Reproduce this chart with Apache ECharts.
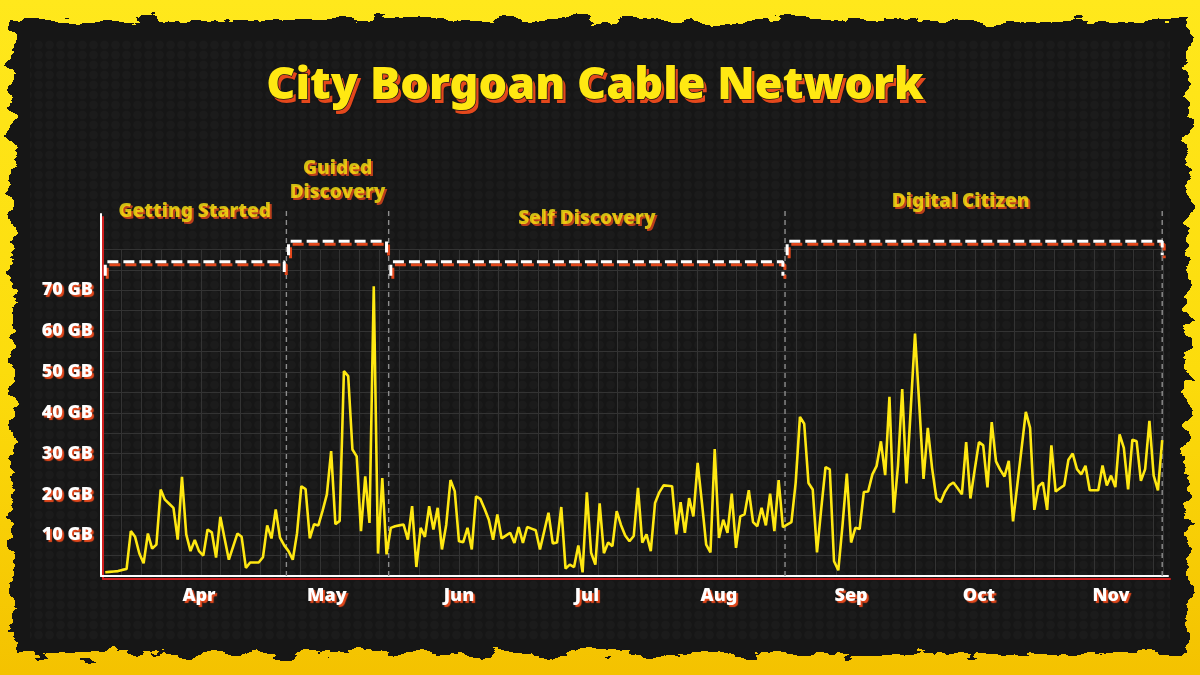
<!DOCTYPE html>
<html>
<head>
<meta charset="utf-8">
<script src="https://cdn.jsdelivr.net/npm/echarts@6/dist/echarts.min.js"></script>
<style>
html,body{margin:0;padding:0;width:1200px;height:675px;overflow:hidden;
  background:linear-gradient(180deg,#ffe81c 0%,#fcdc0c 55%,#f4c200 100%);}
#bg{position:absolute;left:0;top:0;}
#chart{position:absolute;left:0;top:0;width:1200px;height:675px;}
</style>
</head>
<body>
<svg id="bg" width="1200" height="675">
  <defs>
    <filter id="torn" x="-5%" y="-8%" width="110%" height="116%">
      <feTurbulence type="fractalNoise" baseFrequency="0.03 0.07" numOctaves="4" seed="11" result="n"/>
      <feDisplacementMap in="SourceGraphic" in2="n" scale="24" xChannelSelector="R" yChannelSelector="G"/>
    </filter>
    <pattern id="dots" width="11" height="10" patternUnits="userSpaceOnUse">
      <circle cx="5.5" cy="5" r="4.2" fill="#1f1f1f"/>
    </pattern>
  </defs>
  <g filter="url(#torn)">
    <rect x="12" y="20" width="1176" height="634" fill="#171717"/>
  </g>
  <rect x="30" y="40" width="1140" height="600" fill="url(#dots)" opacity="0.6"/>
</svg>
<div id="chart"></div>
<script>
// ---------------- data ----------------
const chartTitle = 'City Borgoan Cable Network';
const startDate = [2023, 2, 10];           // first day of the series (10 Mar 2023)
const monthLabels = ['Jan','Feb','Mar','Apr','May','Jun','Jul','Aug','Sep','Oct','Nov','Dec'];
const usageGB = [
  0.9, 1.0, 1.1, 1.2, 1.5, 1.7, 11.0, 9.6, 5.5, 3.1,
  10.4, 6.7, 7.7, 21.2, 18.7, 17.7, 16.7, 8.9, 24.3, 10.2,
  6.1, 8.8, 6.1, 5.0, 11.4, 10.7, 4.5, 14.5, 9.2, 4.0,
  7.2, 10.4, 9.6, 2.0, 3.3, 3.3, 3.3, 4.6, 12.4, 9.2,
  16.3, 9.4, 7.5, 6.1, 4.0, 10.5, 22.0, 21.3, 9.2, 12.7,
  12.4, 16.0, 20.0, 30.6, 12.7, 13.5, 50.2, 49.0, 31.0, 29.3,
  11.0, 24.4, 13.0, 71.0, 5.5, 24.0, 5.3, 11.8, 12.2, 12.4,
  12.6, 8.9, 17.1, 2.2, 11.8, 9.6, 17.1, 11.4, 16.7, 6.5,
  12.5, 23.5, 20.8, 8.5, 8.3, 11.8, 6.5, 19.5, 18.9, 16.5,
  13.8, 8.9, 15.1, 9.2, 9.9, 10.6, 8.1, 12.0, 8.1, 12.0,
  11.6, 11.2, 6.5, 11.0, 15.5, 8.0, 8.2, 16.9, 1.8, 2.8,
  2.2, 7.5, 0.9, 20.5, 5.7, 2.8, 17.8, 5.6, 8.2, 7.3,
  15.9, 12.5, 9.9, 8.5, 9.8, 21.6, 8.2, 10.2, 6.1, 17.9,
  20.5, 22.2, 22.1, 22.0, 10.2, 18.1, 10.6, 19.1, 14.6, 27.7,
  18.0, 7.7, 5.8, 31.1, 9.3, 13.8, 10.6, 20.2, 6.9, 14.6,
  15.1, 21.0, 13.2, 12.2, 16.7, 12.4, 20.2, 11.0, 23.5, 12.0,
  12.6, 13.2, 22.9, 39.0, 37.3, 22.8, 21.2, 5.8, 16.5, 26.7,
  26.1, 3.6, 1.4, 12.6, 25.1, 8.2, 11.8, 11.5, 20.6, 20.7,
  24.9, 27.0, 33.0, 24.7, 43.9, 15.5, 27.0, 45.8, 22.7, 41.0,
  59.4, 42.0, 23.8, 36.3, 26.5, 19.1, 18.1, 20.6, 22.2, 22.9,
  21.5, 20.0, 32.8, 19.0, 26.0, 32.8, 32.0, 21.7, 37.7, 28.1,
  26.0, 24.4, 28.2, 13.4, 22.3, 31.2, 40.2, 36.3, 16.2, 22.0,
  22.9, 16.2, 32.0, 20.7, 21.5, 22.2, 28.5, 30.0, 26.2, 24.9,
  27.0, 21.0, 21.0, 21.0, 27.1, 22.2, 24.6, 21.8, 34.7, 31.4,
  21.2, 33.4, 33.0, 23.3, 26.2, 38.0, 24.6, 21.0, 33.3
];
const phaseNames  = ['Getting Started', 'Guided\nDiscovery', 'Self Discovery', 'Digital Citizen'];
const phaseStarts = [[2023,2,10], [2023,3,22], [2023,4,16], [2023,7,17]];
const phaseEnds   = [[2023,3,21], [2023,4,15], [2023,7,16], [2023,10,13]];
const yTickValues = [10, 20, 30, 40, 50, 60, 70];

// ---------------- layout / style constants ----------------
const bracketLevel = [77, 82, 77, 82];
const bracketDrop  = 3.4;
const labelLevel   = [89.3, 96.9, 87.6, 91.8];
const labelShiftPx = [0, 0, 0, -14];
const DAY = 86400000;
const YELLOW = '#ffe812', SHADOW = '#e4481c', AXISRED = '#d21f1f', INK = '#161616';
const FONT = 'Noto Sans';

// ---------------- build ----------------
const ts = a => new Date(a[0], a[1], a[2]).getTime();
const dayTs = i => new Date(startDate[0], startDate[1], startDate[2] + i).getTime();
const lineData = usageGB.map((v, i) => [dayTs(i), v]);
const tFirst = dayTs(0), tLast = dayTs(usageGB.length - 1);

const series = [];
const dividers = [];
for (let i = 0; i < phaseNames.length - 1; i++) dividers.push((ts(phaseEnds[i]) + ts(phaseStarts[i + 1])) / 2);
dividers.push(ts(phaseEnds[phaseEnds.length - 1]));
dividers.forEach(t => series.push({
  type: 'line', xAxisIndex: 0, yAxisIndex: 0, data: [[t, 0], [t, 90]],
  showSymbol: false, silent: true, clip: false, z: 3,
  lineStyle: {color: '#8e8e8e', width: 1.4, type: [5, 4]}
}));
const phaseLabel = (n, i, pos, color, dx, dy, z) => ({
  type: 'scatter', xAxisIndex: 0, yAxisIndex: 0, silent: true, clip: false, z: z,
  symbolSize: 1, itemStyle: {color: 'rgba(0,0,0,0)'},
  data: [[pos, labelLevel[i]]],
  label: {show: true, position: 'inside', formatter: n, offset: [labelShiftPx[i] + dx, dy],
    color: color, fontFamily: FONT, fontWeight: 900, fontSize: 19, lineHeight: 24,
    align: 'center', verticalAlign: 'middle', textBorderWidth: 0}
});
phaseNames.forEach((n, i) => {
  const s = ts(phaseStarts[i]), e = ts(phaseEnds[i]), L = bracketLevel[i];
  series.push({
    type: 'line', xAxisIndex: 0, yAxisIndex: 0, silent: true, clip: false, z: 4,
    showSymbol: false,
    data: [[s, L - bracketDrop], [s, L], [e, L], [e, L - bracketDrop]],
    lineStyle: {color: '#ffffff', width: 3, type: [11, 5], cap: 'butt',
      shadowColor: SHADOW, shadowOffsetX: 2, shadowOffsetY: 3, shadowBlur: 0}
  });
  series.push(phaseLabel(n, i, (s + e) / 2, SHADOW, 2, 2, 6));
  series.push(phaseLabel(n, i, (s + e) / 2, YELLOW, 0, 0, 7));
});
series.push({
  type: 'line', name: 'Usage', xAxisIndex: 0, yAxisIndex: 0, data: lineData,
  showSymbol: false, z: 8, lineStyle: {color: YELLOW, width: 2.6}
});

const axisLabelStyle = {
  color: '#ffffff', fontFamily: FONT, fontWeight: 900, fontSize: 18,
  textShadowColor: SHADOW, textShadowOffsetX: 2, textShadowOffsetY: 2, textShadowBlur: 1
};
const gridLine = {show: true, lineStyle: {color: '#333333', width: 1}};
const titleFont = '900 45px "Noto Sans"';

const option = {
  backgroundColor: 'transparent',
  animation: false,
  graphic: [
    {type: 'text', x: 598, y: 90, z: 50, silent: true,
      style: {text: chartTitle, fill: SHADOW, stroke: INK, lineWidth: 1.5,
        font: titleFont, align: 'center', verticalAlign: 'middle'}},
    {type: 'text', x: 595, y: 86, z: 51, silent: true,
      style: {text: chartTitle, fill: YELLOW, stroke: INK, lineWidth: 1.5,
        font: titleFont, align: 'center', verticalAlign: 'middle'}}
  ],
  grid: [
    {left: 101, right: 32, top: 214, bottom: 99},
    {left: 101.5, right: 36.5, top: 249.5, bottom: 99}
  ],
  xAxis: [
    {type: 'time', gridIndex: 0, min: tFirst - 1.0 * DAY, max: tLast + 1.36 * DAY, splitNumber: 8,
      axisLine: {show: true, lineStyle: {color: '#ffffff', width: 2, shadowColor: AXISRED, shadowOffsetX: 2, shadowOffsetY: 3, shadowBlur: 0}},
      axisTick: {show: false}, splitLine: {show: false},
      axisLabel: Object.assign({margin: 11, formatter: v => monthLabels[new Date(v).getMonth()]}, axisLabelStyle)},
    {type: 'value', gridIndex: 1, min: 0, max: 53.5, interval: 1,
      axisLine: {show: false}, axisTick: {show: false}, axisLabel: {show: false}, splitLine: gridLine}
  ],
  yAxis: [
    {type: 'value', gridIndex: 0, min: 0, max: 88.7, interval: 10,
      axisLine: {show: true, lineStyle: {color: '#ffffff', width: 2, shadowColor: AXISRED, shadowOffsetX: 2, shadowOffsetY: 3, shadowBlur: 0}},
      axisTick: {show: false}, splitLine: {show: false},
      axisLabel: Object.assign({margin: 8, formatter: v => yTickValues.indexOf(v) >= 0 ? v + ' GB' : ''}, axisLabelStyle)},
    {type: 'value', gridIndex: 1, min: 0, max: 80, interval: 5,
      axisLine: {show: false}, axisTick: {show: false}, axisLabel: {show: false}, splitLine: gridLine}
  ],
  series: series
};
const chart = echarts.init(document.getElementById('chart'));
chart.setOption(option);
</script>
</body>
</html>
